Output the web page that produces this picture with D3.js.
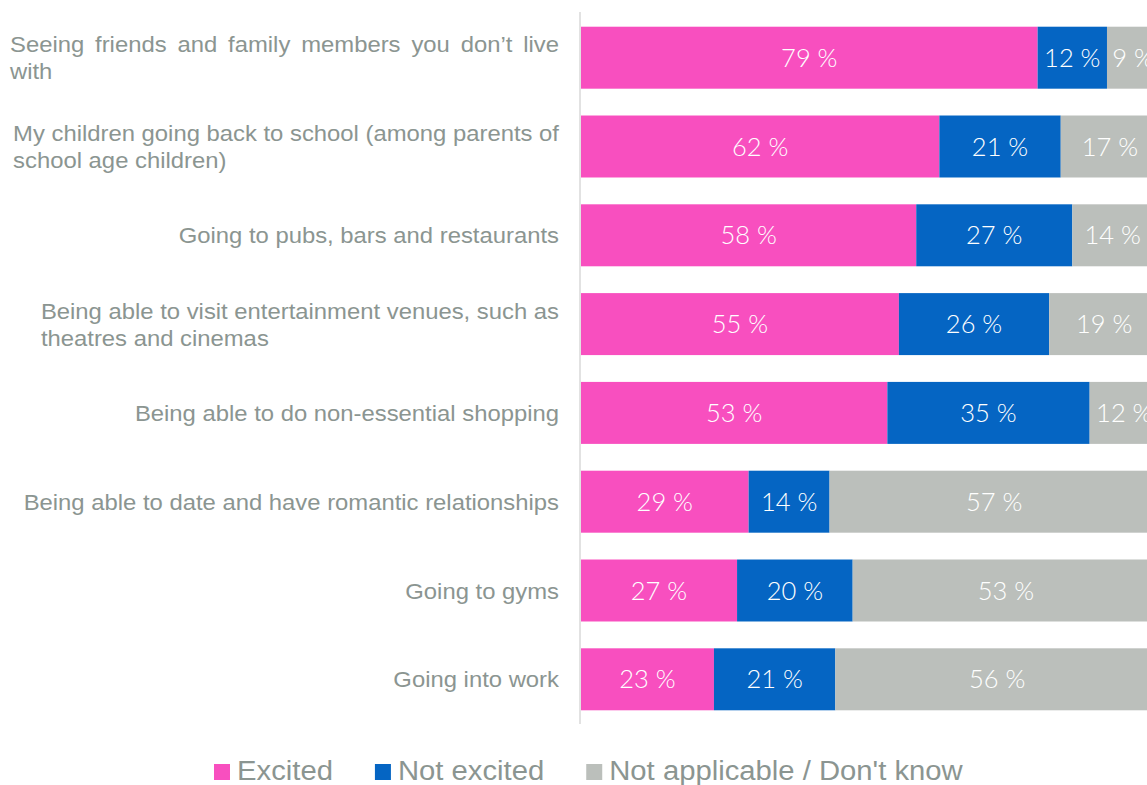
<!DOCTYPE html>
<html>
<head>
<meta charset="utf-8">
<script src="https://cdn.jsdelivr.net/npm/d3@7"></script>
<style>
  html, body { margin: 0; padding: 0; background: #fff; }
  svg { display: block; }
</style>
</head>
<body>
<svg id="chart" width="1147" height="785"></svg>
<script>
// Survey items, each as the lines it is printed on
const categories = [
  "Seeing friends and family members you don’t live with",
  "My children going back to school (among parents of school age children)",
  "Going to pubs, bars and restaurants",
  "Being able to visit entertainment venues, such as theatres and cinemas",
  "Being able to do non-essential shopping",
  "Being able to date and have romantic relationships",
  "Going to gyms",
  "Going into work"
];
const labelLines = [
  ["Seeing friends and family members you don’t live", "with"],
  ["My children going back to school (among parents of", "school age children)"],
  ["Going to pubs, bars and restaurants"],
  ["Being able to visit entertainment venues, such as", "theatres and cinemas"],
  ["Being able to do non-essential shopping"],
  ["Being able to date and have romantic relationships"],
  ["Going to gyms"],
  ["Going into work"]
];

// Shares of respondents (%)
const seriesNames = ["Excited", "Not excited", "Not applicable / Don't know"];
const excited     = [79, 62, 58, 55, 53, 29, 27, 23];
const notExcited  = [12, 21, 27, 26, 35, 14, 20, 21];
const notApplic   = [ 9, 17, 14, 19, 12, 57, 53, 56];

const colors = ["#f84fbf", "#0565c3", "#bbbfbb"];
const textGrey = "#8b9591";
const labelFont = "'Liberation Sans', Arial, sans-serif";
const valueFont = "Lato, 'Open Sans', sans-serif";

const svg = d3.select("#chart");

const rows = categories.map((c, i) => ({
  category: c,
  "Excited": excited[i],
  "Not excited": notExcited[i],
  "Not applicable / Don't know": notApplic[i]
}));

const stack = d3.stack().keys(seriesNames);
const layers = stack(rows);

const x = d3.scaleLinear().domain([0, 100]).range([581, 1159]);
const y = d3.scaleBand()
  .domain(categories)
  .range([13.3, 723.7])
  .paddingInner(0.302)
  .paddingOuter(0.151);

// vertical category axis line
svg.append("line")
  .attr("x1", 580).attr("x2", 580)
  .attr("y1", 12).attr("y2", 724)
  .attr("stroke", "#d9d9d9")
  .attr("stroke-width", 1.5);

// stacked segments
const layerG = svg.selectAll("g.layer")
  .data(layers)
  .join("g")
  .attr("class", "layer")
  .attr("fill", (d, i) => colors[i]);

layerG.selectAll("rect")
  .data(d => d)
  .join("rect")
  .attr("x", d => x(d[0]))
  .attr("y", d => y(d.data.category))
  .attr("width", d => x(d[1]) - x(d[0]))
  .attr("height", y.bandwidth());

// value labels centered in each segment
layerG.selectAll("text")
  .data(d => d)
  .join("text")
  .attr("x", d => (x(d[0]) + x(d[1])) / 2)
  .attr("y", d => y(d.data.category) + y.bandwidth() / 2)
  .attr("dy", "0.36em")
  .attr("text-anchor", "middle")
  .attr("fill", "#ffffff")
  .attr("font-family", valueFont)
  .attr("font-weight", 300)
  .attr("font-size", 25.5)
  .text(d => `${d[1] - d[0]} %`);

// category labels: right-aligned block, wrapped lines share the block's left edge
const labelRight = 559;
const lineHeight = 27;
const stretch = 1.06;               // slightly wide letterforms
const justifyWidth = [549, null, null, null, null, null, null, null];

const labelG = svg.append("g")
  .attr("transform", `translate(${labelRight},0) scale(${stretch},1) translate(${-labelRight},0)`)
  .attr("font-family", labelFont)
  .attr("font-size", 22.5)
  .attr("fill", textGrey);

labelLines.forEach((lines, i) => {
  const cy = y(categories[i]) + y.bandwidth() / 2;
  const texts = lines.map((ln, j) => labelG.append("text")
    .attr("y", cy + (j - (lines.length - 1) / 2) * lineHeight)
    .attr("dy", "0.36em")
    .text(ln));
  const widths = texts.map(t => t.node().getComputedTextLength());
  const blockW = justifyWidth[i] ? justifyWidth[i] / stretch : d3.max(widths);
  const left = labelRight - blockW;
  texts.forEach((t, j) => {
    const isLast = j === texts.length - 1;
    if (texts.length > 1) {
      if (!isLast && justifyWidth[i]) {
        const spaces = (lines[j].match(/ /g) || []).length;
        if (spaces > 0) t.attr("word-spacing", (blockW - widths[j]) / spaces);
      }
      t.attr("x", left);
    } else {
      t.attr("x", labelRight).attr("text-anchor", "end");
    }
  });
});

// legend
const legend = svg.append("g")
  .attr("font-family", labelFont)
  .attr("font-size", 28)
  .attr("fill", textGrey);
const legendStretch = 1.045;
let lx = 214;
const ly = 780;
seriesNames.forEach((name, i) => {
  legend.append("rect")
    .attr("x", lx).attr("y", ly - 16)
    .attr("width", 16).attr("height", 16)
    .attr("fill", colors[i]);
  const t = legend.append("text")
    .attr("transform", `translate(${lx + 23},${ly}) scale(${legendStretch},1)`)
    .text(name);
  lx += 23 + t.node().getComputedTextLength() * legendStretch + 42;
});
</script>
</body>
</html>
